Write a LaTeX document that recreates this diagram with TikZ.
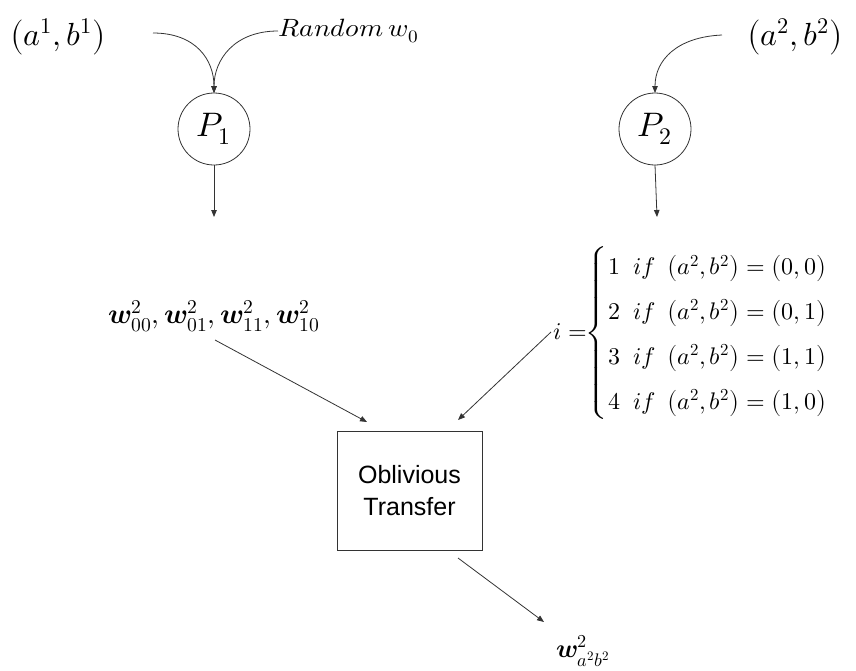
\documentclass[tikz,border=0pt]{standalone}
\usepackage{graphicx}
\usepackage{fontspec}
\usepackage{unicode-math}
\setmainfont{Liberation Serif}
\setsansfont{Liberation Sans}
\usetikzlibrary{arrows.meta}
\begin{document}
\begin{tikzpicture}[x=1pt,y=-1pt,line width=0.8pt,
  arr/.style={draw=black!80,-{Triangle[length=7pt,width=5.5pt]}},
  party/.style={circle,draw=black!80,minimum size=72pt,inner sep=0pt,outer sep=0pt,font=\fontsize{34}{38}\selectfont},
  pair/.style={inner sep=0pt,font=\fontsize{32}{38}\selectfont},
  lbl/.style={inner sep=0pt}]
\useasboundingbox (0,0) rectangle (856,670);
% top inputs
\node[pair] (a1b1) at (58,37) {$\bigl(a^1, b^1\bigr)$};
\node[lbl,anchor=west,font=\fontsize{25}{29}\selectfont] (rand) at (278,31) {\scalebox{1.1}[1]{$\symit{Random}\, w_0$}};
\node[pair] (a2b2) at (795,37) {$\bigl(a^2, b^2\bigr)$};
% parties
\node[party] (P1) at (214,129) {$P_1$};
\node[party] (P2) at (655,129) {$P_2$};
% curves into parties
\coordinate (c1) at (153,33);
\coordinate (c2) at (722,35);
\draw[arr] (c1) .. controls (196,33) and (214,60) .. (P1.north);
\draw[arr] (rand.west) .. controls (234,31) and (214,60) .. (P1.north);
\draw[arr] (c2) .. controls (677,37) and (655,60) .. (P2.north);
% down arrows
\coordinate (d1) at (214,217);
\coordinate (d2) at (657,217);
\draw[arr] (P1.south) -- (d1);
\draw[arr] (P2.south) -- (d2);
% w label
\node[lbl,font=\fontsize{28}{32}\selectfont] (w) at (214,316) {$\symbfit{w}^2_{00}, \symbfit{w}^2_{01}, \symbfit{w}^2_{11}, \symbfit{w}^2_{10}$};
% cases
\node[lbl,anchor=west,font=\fontsize{24}{26}\selectfont] (cases) at (553,333)
  {\renewcommand{\arraystretch}{1.72}$i=\!\!\left\{\begin{array}{@{\hspace{1pt}}l@{\hspace{13pt}}l@{\hspace{12pt}}l@{}}
   1 & \symit{if} & \bigl(a^2,b^2\bigr)=\bigl(0,0\bigr)\\
   2 & \symit{if} & \bigl(a^2,b^2\bigr)=\bigl(0,1\bigr)\\
   3 & \symit{if} & \bigl(a^2,b^2\bigr)=\bigl(1,1\bigr)\\
   4 & \symit{if} & \bigl(a^2,b^2\bigr)=\bigl(1,0\bigr)
  \end{array}\right.$};
% oblivious transfer box
\node[draw=black!80,minimum width=145pt,minimum height=119pt,inner sep=0pt,align=center,
  font=\sffamily\fontsize{25}{32}\selectfont] (OT) at (409.5,490.5) {Oblivious\\Transfer};
% output
\node[lbl,font=\fontsize{26}{30}\selectfont] (out) at (583,651) {$\symbfit{w}^2_{a^2b^2}$};
% arrows into and out of OT
\coordinate (s1) at (215,340);
\coordinate (e1) at (367,422);
\coordinate (s2) at (551,332);
\coordinate (e2) at (458,420);
\coordinate (s3) at (458,558);
\coordinate (e3) at (544,622);
\draw[arr] (s1) -- (e1);
\draw[arr] (s2) -- (e2);
\draw[arr] (s3) -- (e3);
\end{tikzpicture}
\end{document}
